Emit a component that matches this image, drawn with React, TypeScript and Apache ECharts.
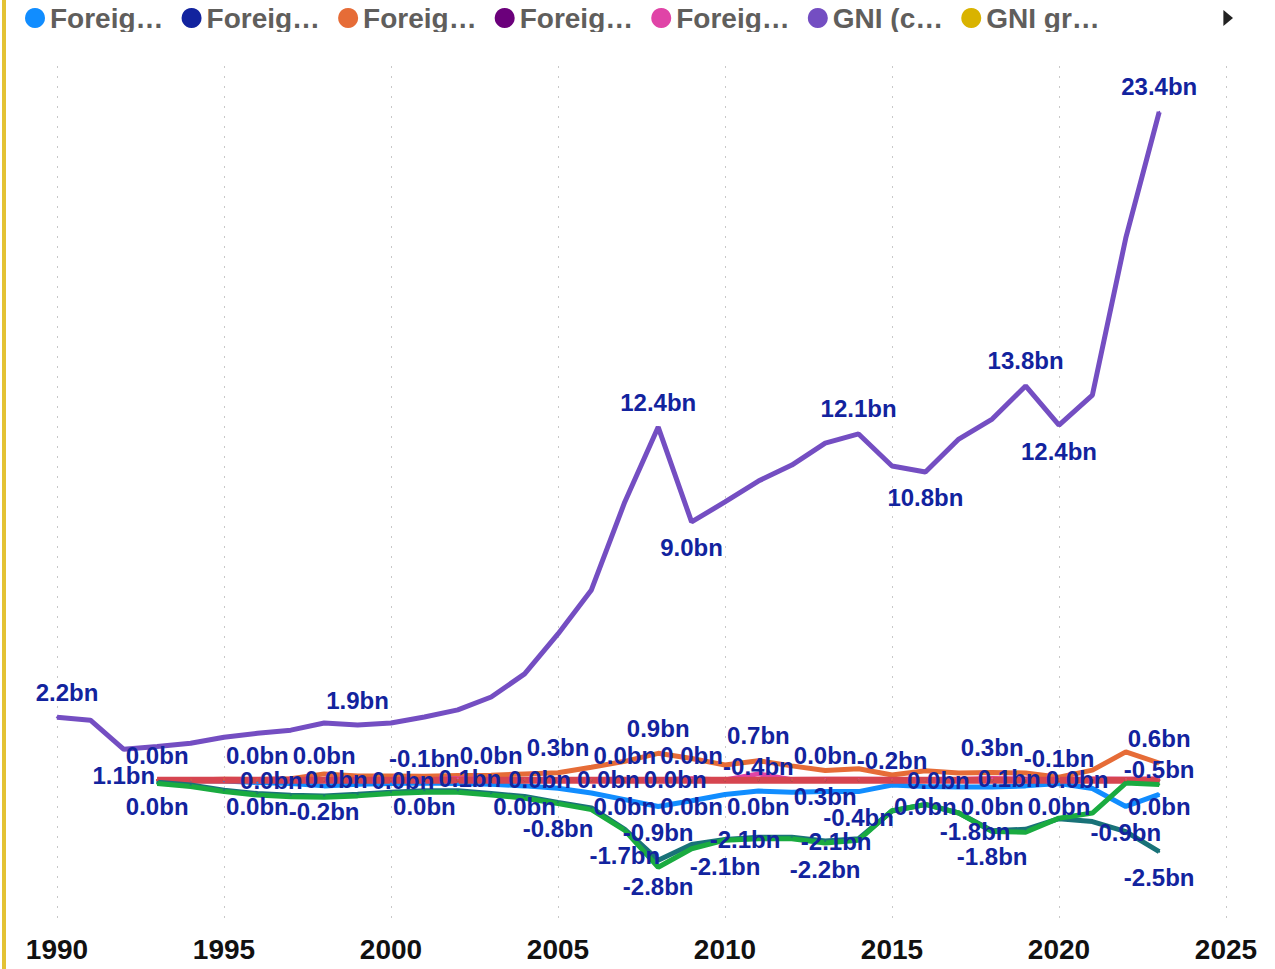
import React, { useEffect, useRef } from "react";
import * as echarts from "echarts";

// ---------- data ----------
const YEARS_GNI = [
  1990, 1991, 1992, 1993, 1994, 1995, 1996, 1997, 1998, 1999, 2000, 2001,
  2002, 2003, 2004, 2005, 2006, 2007, 2008, 2009, 2010, 2011, 2012, 2013,
  2014, 2015, 2016, 2017, 2018, 2019, 2020, 2021, 2022, 2023,
];
const YEARS = [
  1993, 1994, 1995, 1996, 1997, 1998, 1999, 2000, 2001, 2002, 2003, 2004,
  2005, 2006, 2007, 2008, 2009, 2010, 2011, 2012, 2013, 2014, 2015, 2016,
  2017, 2018, 2019, 2020, 2021, 2022, 2023,
];

// billions of US$
const gniBn = [
  2.2, 2.1, 1.08, 1.18, 1.29, 1.5, 1.64, 1.75, 2.0, 1.93, 2.0, 2.21, 2.46,
  2.91, 3.72, 5.12, 6.66, 9.74, 12.36, 9.04, 9.74, 10.47, 11.03, 11.8, 12.12,
  11.0, 10.79, 11.94, 12.64, 13.8, 12.43, 13.48, 18.98, 23.39,
];
const fdiNetBn = [
  0.0, -0.01, -0.03, -0.08, -0.12, -0.2, -0.14, -0.12, -0.1, -0.12, -0.14,
  -0.2, -0.28, -0.45, -0.68, -0.92, -0.72, -0.5, -0.38, -0.42, -0.4, -0.4,
  -0.17, -0.22, -0.24, -0.24, -0.2, -0.12, -0.29, -0.92, -0.5,
];
const fdiInflowsBn = [
  0.0, 0.01, 0.03, 0.02, 0.05, 0.22, 0.15, 0.15, 0.14, 0.16, 0.17, 0.22,
  0.26, 0.45, 0.66, 0.94, 0.76, 0.53, 0.68, 0.5, 0.34, 0.4, 0.18, 0.33, 0.25,
  0.27, 0.25, 0.1, 0.35, 0.99, 0.6,
];
const fdiOutflowsBn = [
  0.0, 0.0, 0.0, 0.0, 0.0, 0.01, 0.0, 0.0, 0.01, 0.06, 0.0, 0.02, 0.01, 0.02,
  0.0, 0.01, 0.05, 0.01, 0.22, 0.02, 0.03, 0.03, 0.02, 0.0, 0.02, 0.06, 0.04,
  0.01, 0.04, 0.03, 0.04,
];
const netTradeGoodsBn = [
  -0.07, -0.17, -0.35, -0.47, -0.53, -0.55, -0.49, -0.42, -0.37, -0.37, -0.47,
  -0.57, -0.78, -0.97, -1.72, -2.8, -2.25, -2.08, -2.0, -2.0, -2.13, -2.05,
  -1.08, -0.85, -1.15, -1.77, -1.72, -1.35, -1.45, -1.8, -2.5,
];
const netTradeGoodsServicesBn = [
  -0.12, -0.22, -0.4, -0.52, -0.58, -0.6, -0.55, -0.47, -0.42, -0.42, -0.52,
  -0.63, -0.82, -1.03, -1.76, -3.05, -2.4, -2.1, -2.05, -2.05, -2.2, -2.1,
  -1.07, -0.85, -1.15, -1.8, -1.82, -1.33, -1.15, -0.1, -0.15,
];
// series whose values read as 0.0bn on this scale
const fdiInflowsPctGdp = [
  0, 0, 0, 0, 0, 0, 0, 0, 0, 0, 0, 0, 0, 0, 0, 0, 0, 0, 0, 0, 0, 0, 0, 0, 0,
  0, 0, 0, 0, 0, 0,
];
const fdiOutflowsPctGdp = [
  0, 0, 0, 0, 0, 0, 0, 0, 0, 0, 0, 0, 0, 0, 0, 0, 0, 0, 0, 0, 0, 0, 0, 0, 0,
  0, 0, 0, 0, 0, 0,
];
const gniGrowthPct = [
  0, 0, 0, 0, 0, 0, 0, 0, 0, 0, 0, 0, 0, 0, 0, 0, 0, 0, 0, 0, 0, 0, 0, 0, 0,
  0, 0, 0, 0, 0, 0,
];
const gniPerCapitaUsd = [
  0, 0, 0, 0, 0, 0, 0, 0, 0, 0, 0, 0, 0, 0, 0, 0, 0, 0, 0, 0, 0, 0, 0, 0, 0,
  0, 0, 0, 0, 0, 0,
];

const X_TICKS_MIN = 1990;
const X_TICKS_MAX = 2025;
const X_TICK_STEP = 5;

// ---------- styling / label plan ----------
type LabelPlan = {
  top?: number[];
  bottom?: number[];
  mid?: [number, number][];
  dx?: [number, number][];
};
type SeriesDef = {
  name: string;
  color: string;
  years: number[];
  values: number[];
  unit: number;
  width: number;
  labels: LabelPlan;
};

const BN = 1e9;
const SERIES: SeriesDef[] = [
  {
    name: "Foreign direct investment, net (BoP, current US$)",
    color: "#118DFF",
    years: YEARS,
    values: fdiNetBn,
    unit: BN,
    width: 5,
    labels: { top: [2001, 2011, 2015, 2020, 2023], bottom: [1998, 2008, 2014, 2022] },
  },
  {
    name: "Foreign direct investment, net inflows (% of GDP)",
    color: "#12239E",
    years: YEARS,
    values: fdiInflowsPctGdp,
    unit: 1,
    width: 5,
    labels: { top: [1993, 1996, 1998, 2003, 2007, 2009, 2013] },
  },
  {
    name: "Foreign direct investment, net inflows (BoP, current US$)",
    color: "#E66C37",
    years: YEARS,
    values: fdiInflowsBn,
    unit: BN,
    width: 5,
    labels: { top: [2005, 2008, 2011, 2018, 2023], bottom: [2013] },
  },
  {
    name: "Foreign direct investment, net outflows (% of GDP)",
    color: "#6B007B",
    years: YEARS,
    values: fdiOutflowsPctGdp,
    unit: 1,
    width: 5,
    labels: {},
  },
  {
    name: "Foreign direct investment, net outflows (BoP, current US$)",
    color: "#E044A7",
    years: YEARS,
    values: fdiOutflowsBn,
    unit: BN,
    width: 5,
    labels: {
      mid: [
        [1996, 14], [1998, 12], [2000, 12], [2002, 12], [2004, 15],
        [2006, 17], [2008, 17], [2016, 13], [2018, 17], [2020, 18],
      ],
    },
  },
  {
    name: "GNI (current US$)",
    color: "#744EC2",
    years: YEARS_GNI,
    values: gniBn,
    unit: BN,
    width: 5,
    labels: {
      top: [1990, 1999, 2008, 2014, 2019, 2023],
      bottom: [1992, 2009, 2016, 2020],
      dx: [[1990, 10]],
    },
  },
  {
    name: "GNI growth (annual %)",
    color: "#D9B300",
    years: YEARS,
    values: gniGrowthPct,
    unit: 1,
    width: 5,
    labels: {},
  },
  {
    name: "GNI per capita (current US$)",
    color: "#D64550",
    years: YEARS,
    values: gniPerCapitaUsd,
    unit: 1,
    width: 7,
    labels: { bottom: [1993, 1996, 2001, 2004, 2007, 2009, 2011, 2016, 2018, 2020, 2023] },
  },
  {
    name: "Net trade in goods (BoP, current US$)",
    color: "#197278",
    years: YEARS,
    values: netTradeGoodsBn,
    unit: BN,
    width: 5,
    labels: { bottom: [2005, 2007, 2008, 2018, 2023], mid: [[2010, 20], [2013, 11]] },
  },
  {
    name: "Net trade in goods and services (BoP, current US$)",
    color: "#1AAB40",
    years: YEARS,
    values: netTradeGoodsServicesBn,
    unit: BN,
    width: 5,
    labels: { bottom: [2010, 2013], mid: [[2018, -17]] },
  },
];

const LABEL_COLOR = "#12239E";
const FONT = "Arial, 'Liberation Sans', sans-serif";

function buildSeries() {
  return SERIES.map((s) => {
    const data = s.years.map((y, i) => {
      const item: any = { value: [y, s.values[i] * s.unit] };
      const p = s.labels;
      const shift = p.dx ? p.dx.find((e) => e[0] === y) : undefined;
      const off = shift ? [shift[1], 0] : [0, 0];
      if (p.top && p.top.includes(y)) {
        item.label = { show: true, position: "top", distance: 12, offset: off };
      } else if (p.bottom && p.bottom.includes(y)) {
        item.label = { show: true, position: "bottom", distance: 13, offset: off };
      } else if (p.mid) {
        const m = p.mid.find((e) => e[0] === y);
        if (m) item.label = { show: true, position: "inside", offset: [m[1], 0] };
      }
      return item;
    });
    return {
      name: s.name,
      type: "line",
      data,
      color: s.color,
      showSymbol: true,
      symbol: "circle",
      symbolSize: 2,
      itemStyle: { color: s.color },
      lineStyle: { width: s.width, color: s.color },
      emphasis: { disabled: true },
      label: {
        show: false,
        color: LABEL_COLOR,
        fontSize: 24,
        fontWeight: "bold",
        fontFamily: FONT,
        formatter: (p: any) => (p.value[1] / 1e9).toFixed(1) + "bn",
      },
    };
  });
}

export default function App() {
  const ref = useRef<HTMLDivElement>(null);

  useEffect(() => {
    if (!ref.current) return;
    const chart = echarts.init(ref.current, null, { renderer: "svg" });
    chart.setOption({
      animation: false,
      backgroundColor: "#ffffff",
      legend: {
        type: "scroll",
        left: 20,
        width: 1208,
        top: -1,
        icon: "circle",
        itemWidth: 20,
        itemHeight: 20,
        itemGap: 18,
        data: SERIES.map((s) => s.name),
        textStyle: {
          fontSize: 28,
          fontWeight: "bold",
          color: "#605E5C",
          fontFamily: FONT,
          width: 124,
          overflow: "truncate",
          ellipsis: "…",
        },
        pageFormatter: () => " ",
        pageTextStyle: { color: "rgba(0,0,0,0)", fontSize: 28, width: 80 },
        pageIconColor: "#222222",
        pageIconInactiveColor: "rgba(0,0,0,0)",
        pageIconSize: 16,
        pageButtonGap: 40,
      },
      tooltip: { show: false },
      grid: { left: 57, right: 49, top: 66, bottom: 46, outerBoundsMode: "none" },
      xAxis: {
        type: "value",
        min: X_TICKS_MIN,
        max: X_TICKS_MAX,
        interval: X_TICK_STEP,
        axisLine: { show: false },
        axisTick: { show: false },
        splitLine: {
          show: true,
          lineStyle: { color: "#c8c8c8", width: 1, type: [2, 8] },
        },
        axisLabel: {
          fontSize: 28,
          fontWeight: "bold",
          color: "#111111",
          fontFamily: FONT,
          margin: 12,
          formatter: (v: number) => String(v),
        },
      },
      yAxis: {
        type: "value",
        min: -5e9,
        max: 25e9,
        show: false,
        splitLine: { show: false },
      },
      series: buildSeries(),
    });
    return () => chart.dispose();
  }, []);

  return (
    <div
      style={{
        position: "fixed",
        left: 0,
        top: 0,
        width: 1275,
        height: 969,
        background: "#ffffff",
      }}
    >
      <div
        style={{
          position: "absolute",
          left: 2,
          top: 0,
          width: 4,
          height: 969,
          background: "#E3C234",
          zIndex: 2,
        }}
      />
      <div ref={ref} style={{ position: "absolute", left: 0, top: 0, width: 1275, height: 969 }} />
    </div>
  );
}
